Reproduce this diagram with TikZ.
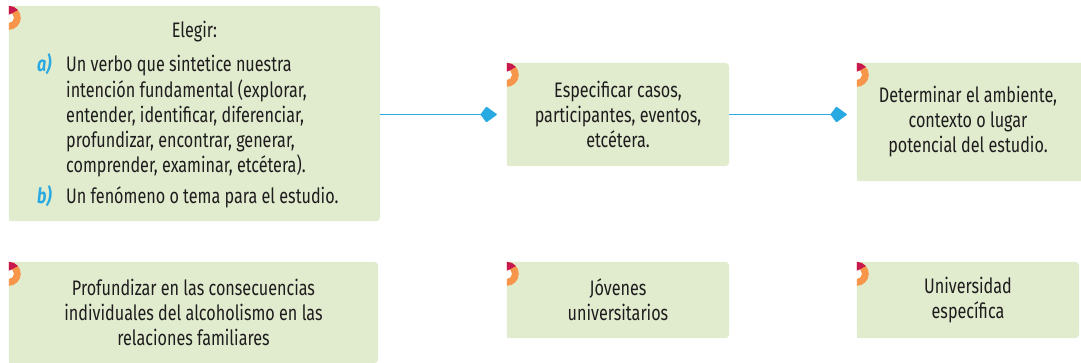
\documentclass[tikz,border=0pt]{standalone}
\usepackage{fontspec}
\setmainfont{Fira Sans}[FakeStretch=0.77]
\usetikzlibrary{arrows.meta,calc,backgrounds}
\definecolor{boxg}{HTML}{E1ECCF}
\definecolor{arr}{HTML}{29A9E1}
\definecolor{org}{HTML}{F7964A}
\definecolor{crim}{HTML}{C8194F}
\definecolor{ink}{HTML}{1E1C1D}
\newcommand\lbl[1]{\textcolor{arr}{\bfseries\itshape #1}}
\newcommand\boxbg[1]{%
  \fill[boxg, rounded corners=4pt] (#1.north west) rectangle (#1.south east);
  \fill[boxg] (#1.north west) rectangle (#1.south);
  \fill[org] (#1.north west) arc[start angle=90,end angle=-90,radius=12pt] -- ++(0pt,7pt) arc[start angle=-90,end angle=90,radius=5pt] -- cycle;
  \fill[white] ($(#1.north west)+(0pt,-7pt)$) arc[start angle=90,end angle=-90,radius=5pt] -- cycle;
  \fill[crim] (#1.north west) arc[start angle=90,end angle=40,radius=12pt] -- ($(#1.north west)+(0pt,-9pt)$) -- cycle;
}
\tikzset{
  x=1pt, y=-1pt,
  box/.style={rectangle, inner sep=0pt, text=ink, align=center, font=\fontsize{21}{25}\selectfont},
  txt/.style={inner sep=0pt, text=ink, font=\fontsize{21}{25}\selectfont},
  conn/.style={draw=arr, line width=1.5pt, -{Kite[length=17pt,width=16pt,inset=6pt,round]}, shorten >=10pt},
}
\begin{document}
\begin{tikzpicture}
\useasboundingbox (0,0) rectangle (1081,363);
% boxes
\node[box, minimum width=371pt, minimum height=215pt] (b1) at (194.5,113.5) {};
\node[box, minimum width=222pt, minimum height=103pt] (b2) at (618,114.5) {Especificar casos,\\participantes, eventos,\\etcétera.};
\node[box, minimum width=228pt, minimum height=118pt] (b3) at (971,122) {\hspace*{-6pt}Determinar el ambiente,\\\hspace*{-6pt}contexto o lugar\\\hspace*{-6pt}potencial del estudio.};
\node[box, minimum width=369pt, minimum height=101pt] (b4) at (193.5,312.5) {Profundizar en las consecuencias\\individuales del alcoholismo en las\\relaciones familiares};
\node[box, minimum width=222pt, minimum height=76pt] (b5) at (618,300) {Jóvenes\\universitarios};
\node[box, minimum width=222pt, minimum height=76pt] (b6) at (968,300) {Universidad\\específica};
% box 1 text
\node[txt, anchor=base] (el) at (194.5,38) {Elegir:};
\node[txt, anchor=base west] (lst) at (37,72) {\begin{tabular}[t]{@{}p{29pt}@{}l@{}}
\lbl{a)} & Un verbo que sintetice nuestra\\
 & intención fundamental (explorar,\\
 & entender, identificar, diferenciar,\\
 & profundizar, encontrar, generar,\\
 & comprender, examinar, etcétera).\\[6pt]
\lbl{b)} & Un fenómeno o tema para el estudio.
\end{tabular}};
% connectors
\draw[conn] (b1.east |- b2.west) -- (b2.west);
\draw[conn] (b2.east) -- (b3.west |- b2.east);
\begin{scope}[on background layer]
\boxbg{b1}\boxbg{b2}\boxbg{b3}\boxbg{b4}\boxbg{b5}\boxbg{b6}
\end{scope}
\end{tikzpicture}
\end{document}
